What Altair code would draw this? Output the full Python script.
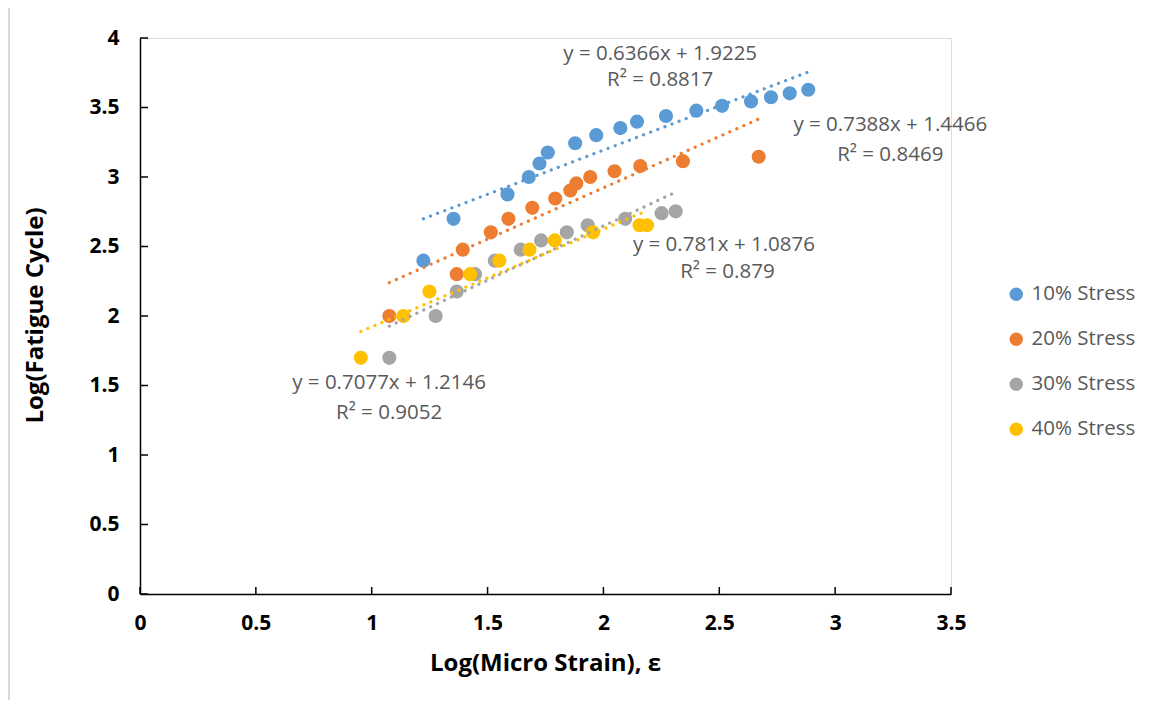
import altair as alt
import pandas as pd

series_names = ["10% Stress", "20% Stress", "30% Stress", "40% Stress"]
series_colors = ["#5B9BD5", "#ED7D31", "#A5A5A5", "#FFC000"]

x10 = [1.223, 1.353, 1.586, 1.678, 1.724, 1.760, 1.878, 1.969, 2.073, 2.145,
       2.270, 2.401, 2.512, 2.637, 2.723, 2.804, 2.884]
y10 = [2.398, 2.699, 2.875, 3.000, 3.097, 3.176, 3.243, 3.301, 3.352, 3.398,
       3.439, 3.477, 3.512, 3.544, 3.574, 3.602, 3.628]

x20 = [1.076, 1.367, 1.393, 1.514, 1.590, 1.693, 1.792, 1.857, 1.883, 1.943,
       2.048, 2.159, 2.343, 2.670]
y20 = [2.000, 2.301, 2.477, 2.602, 2.699, 2.778, 2.845, 2.903, 2.954, 3.000,
       3.041, 3.079, 3.114, 3.146]

x30 = [1.076, 1.276, 1.367, 1.446, 1.531, 1.643, 1.731, 1.842, 1.932, 2.094,
       2.251, 2.312]
y30 = [1.699, 2.000, 2.176, 2.301, 2.398, 2.477, 2.544, 2.602, 2.653, 2.699,
       2.740, 2.753]

x40 = [0.953, 1.137, 1.249, 1.425, 1.551, 1.681, 1.790, 1.955, 2.156, 2.188]
y40 = [1.699, 2.000, 2.176, 2.301, 2.398, 2.477, 2.544, 2.602, 2.653, 2.653]

eq_texts = ["y = 0.6366x + 1.9225", "R² = 0.8817",
            "y = 0.7388x + 1.4466", "R² = 0.8469",
            "y = 0.781x + 1.0876", "R² = 0.879",
            "y = 0.7077x + 1.2146", "R² = 0.9052"]
eq_x = [2.245, 2.245, 3.238, 3.238, 2.520, 2.535, 1.075, 1.075]
eq_y = [3.885, 3.695, 3.372, 3.158, 2.509, 2.315, 1.515, 1.305]

x_ticks = [0, 0.5, 1, 1.5, 2, 2.5, 3, 3.5]
y_ticks = [0, 0.5, 1, 1.5, 2, 2.5, 3, 3.5, 4]

rows = []
for name, xs, ys in zip(series_names, [x10, x20, x30, x40], [y10, y20, y30, y40]):
    for a, b in zip(xs, ys):
        rows.append({"x": a, "y": b, "series": name})
df = pd.DataFrame(rows)
ann = pd.DataFrame({"x": eq_x, "y": eq_y, "t": eq_texts})
xt = pd.DataFrame({"v": x_ticks})
yt = pd.DataFrame({"v": y_ticks})

W, H = 811, 556
FONT = "Open Sans"

xscale = alt.Scale(domain=[0, 3.5], nice=False, zero=False)
yscale = alt.Scale(domain=[0, 4], nice=False, zero=False)
cscale = alt.Scale(domain=series_names, range=series_colors)

xaxis = alt.Axis(values=x_ticks, format="~g", grid=False, ticks=False,
                 labelFlush=False, labelOverlap=False,
                 domainColor="#000000", domainWidth=1.5,
                 labelFont=FONT, labelFontSize=21, labelFontWeight="bold",
                 labelColor="#000000", labelPadding=18,
                 title="Log(Micro Strain), ε", titleFont=FONT, titleFontSize=24,
                 titleFontWeight="bold", titleColor="#000000",
                 titleX=405, titleY=69, titleAlign="center", titleBaseline="middle")
yaxis = alt.Axis(values=y_ticks, format="~g", grid=False, ticks=False,
                 labelFlush=False, labelOverlap=False,
                 domainColor="#000000", domainWidth=1.5,
                 labelFont=FONT, labelFontSize=21, labelFontWeight="bold",
                 labelColor="#000000", labelPadding=21,
                 title="Log(Fatigue Cycle)", titleFont=FONT, titleFontSize=24,
                 titleFontWeight="bold", titleColor="#000000",
                 titleX=-105, titleY=277, titleAlign="center", titleBaseline="middle",
                 titleAngle=-90)

points = alt.Chart(df).mark_circle(size=200, opacity=1).encode(
    x=alt.X("x:Q", scale=xscale, axis=xaxis),
    y=alt.Y("y:Q", scale=yscale, axis=yaxis),
    color=alt.Color("series:N", scale=cscale, sort=series_names,
                    legend=alt.Legend(orient="none", legendX=866, legendY=246,
                                      title=None, symbolType="circle",
                                      symbolSize=180, symbolStrokeWidth=0,
                                      labelFont=FONT, labelFontSize=20.5,
                                      labelColor="#595959", labelOffset=5,
                                      rowPadding=24, padding=0)),
    order=alt.Order("series:N"),
)

trend = alt.Chart(df).transform_regression(
    "x", "y", groupby=["series"], method="linear"
).mark_line(strokeDash=[0.1, 7.5], strokeCap="round", strokeWidth=3.2).encode(
    x=alt.X("x:Q", scale=xscale),
    y=alt.Y("y:Q", scale=yscale),
    color=alt.Color("series:N", scale=cscale, legend=None),
    detail="series:N",
)

labels = alt.Chart(ann).mark_text(font=FONT, fontSize=20.5, color="#595959",
                                  align="center", baseline="middle").encode(
    x=alt.X("x:Q", scale=xscale),
    y=alt.Y("y:Q", scale=yscale),
    text="t:N",
)

xtick_marks = alt.Chart(xt).mark_rule(color="#000000", strokeWidth=1.5).encode(
    x=alt.X("v:Q", scale=xscale),
    y=alt.value(H),
    y2=alt.value(H - 7),
)
ytick_marks = alt.Chart(yt).mark_rule(color="#000000", strokeWidth=1.5).encode(
    y=alt.Y("v:Q", scale=yscale),
    x=alt.value(0),
    x2=alt.value(8),
)

border = alt.Chart(xt).mark_rule(color="#D9D9D9", strokeWidth=2).encode(
    x=alt.value(-131), y=alt.value(-38), y2=alt.value(H + 120),
)

chart = alt.layer(border, xtick_marks, ytick_marks, points, trend, labels).properties(
    width=W, height=H,
    autosize=alt.AutoSizeParams(type="none"),
    padding={"left": 132, "top": 30, "right": 197, "bottom": 106},
).configure_view(stroke=None).configure(background="#FFFFFF")

chart.save("out.html", embed_options={"renderer": "svg", "actions": False})
